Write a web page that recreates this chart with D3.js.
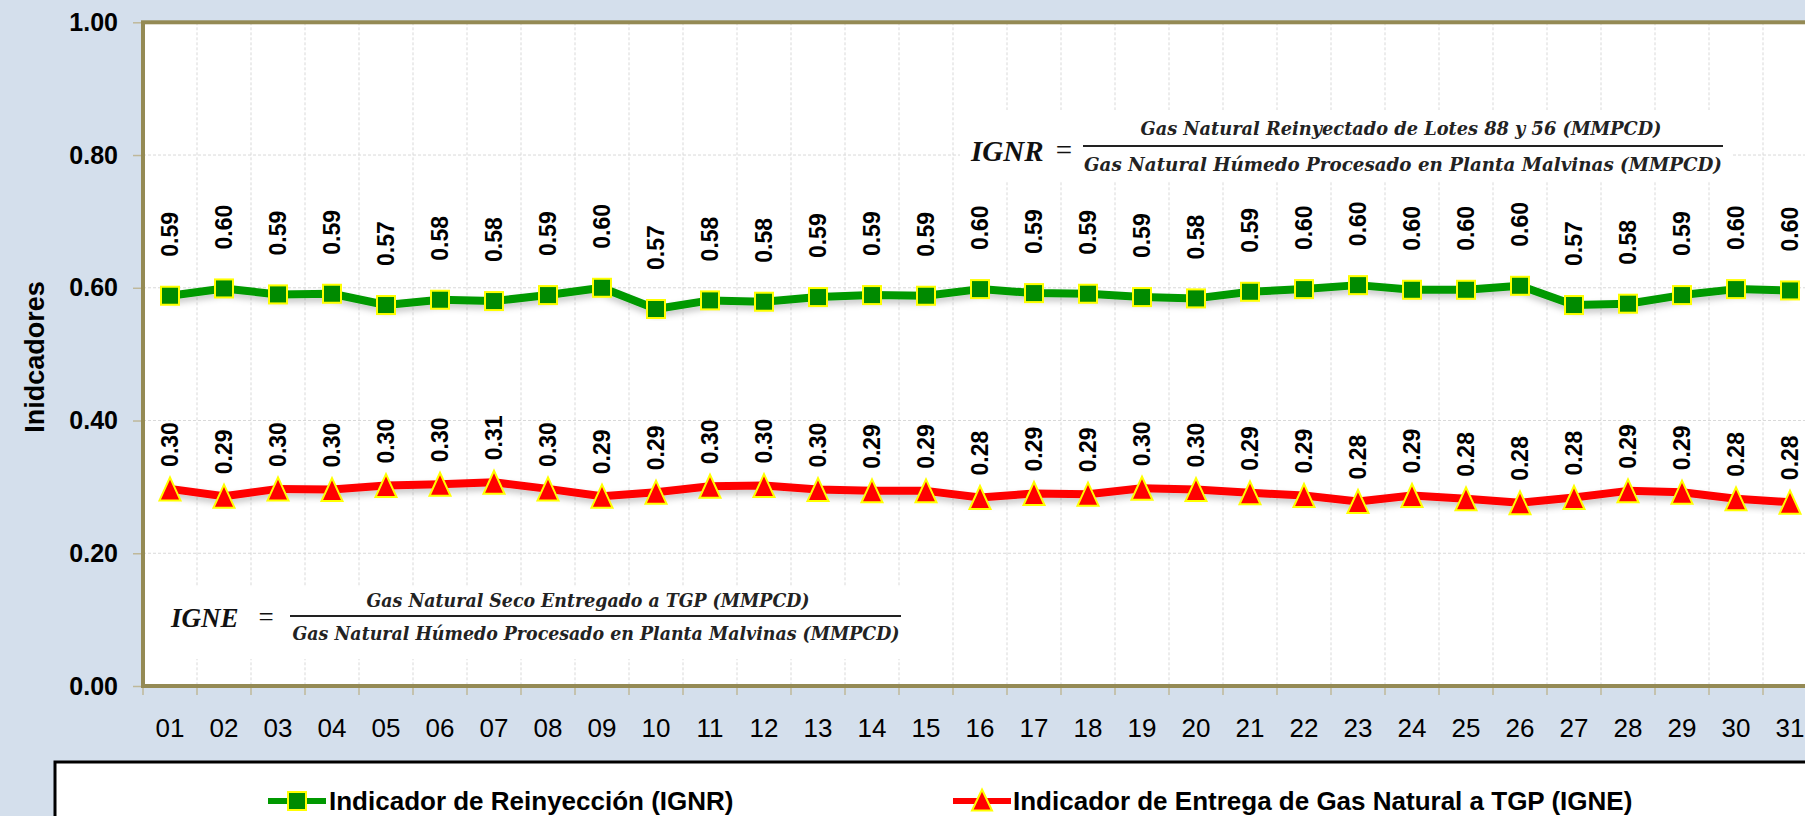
<!DOCTYPE html>
<html><head><meta charset="utf-8">
<script src="https://cdn.jsdelivr.net/npm/d3@7"></script>
<style>
html,body{margin:0;padding:0;background:#d4dfec;}
svg{display:block;}
</style></head>
<body>
<svg id="chart" width="1805" height="816"></svg>
<script>
const days = ["01","02","03","04","05","06","07","08","09","10","11","12","13","14","15","16","17","18","19","20","21","22","23","24","25","26","27","28","29","30","31"];
const ignr = [0.588,0.599,0.590,0.591,0.574,0.582,0.580,0.589,0.600,0.568,0.581,0.579,0.586,0.589,0.588,0.598,0.592,0.591,0.586,0.584,0.594,0.598,0.604,0.597,0.597,0.603,0.574,0.576,0.589,0.598,0.596];
const igne = [0.297,0.286,0.297,0.296,0.302,0.304,0.307,0.297,0.286,0.292,0.301,0.302,0.296,0.294,0.294,0.284,0.290,0.289,0.298,0.296,0.291,0.287,0.278,0.287,0.282,0.276,0.284,0.294,0.292,0.282,0.277];
const yTicks = [0,0.2,0.4,0.6,0.8,1.0];
const seriesNames = ["Indicador de Reinyección (IGNR)","Indicador de Entrega de Gas Natural a TGP (IGNE)"];
const yTitle = "Inidcadores";
const ignrNum = "Gas Natural Reinyectado de Lotes 88 y 56 (MMPCD)";
const ignrDen = "Gas Natural Húmedo Procesado en Planta Malvinas (MMPCD)";
const igneNum = "Gas Natural Seco Entregado a TGP (MMPCD)";
const igneDen = "Gas Natural Húmedo Procesado en Planta Malvinas (MMPCD)";

(function () {
const svg = d3.select("#chart");
const SANS = "'Liberation Sans', Arial, sans-serif";
const SERIF = "'DejaVu Serif', 'Liberation Serif', serif";
const SERIF2 = "'Liberation Serif', 'DejaVu Serif', serif";
const GREEN_LINE = "#009900", GREEN_FILL = "#008a00", RED = "#ff0000", YEL = "#ffff00";
const OLIVE = "#948a54";

const pLeft = 143, step = 54, pTop = 22.3, pBottom = 686;
const x = d3.scaleBand().domain(days).range([pLeft, pLeft + step * days.length]).padding(0);
const y = d3.scaleLinear().domain([0, 1]).range([pBottom, pTop]);
const cx = d => x(d) + x.bandwidth() / 2;

svg.append("rect").attr("width", 1805).attr("height", 816).attr("fill", "#d4dfec");

const defs = svg.append("defs");
const f = defs.append("filter").attr("id", "sh").attr("x", "-5%").attr("y", "-50%").attr("width", "110%").attr("height", "200%");
f.append("feDropShadow").attr("dx", 0).attr("dy", 4).attr("stdDeviation", 3).attr("flood-color", "#000").attr("flood-opacity", 0.22);

// plot area
svg.append("rect").attr("x", pLeft).attr("y", pTop).attr("width", step * days.length).attr("height", pBottom - pTop).attr("fill", "#fff");

// grid
const g = svg.append("g");
g.selectAll("line.h").data(yTicks.slice(1, -1)).join("line")
  .attr("x1", pLeft).attr("x2", pLeft + step * days.length)
  .attr("y1", d => y(d)).attr("y2", d => y(d))
  .attr("stroke", "#d9d9d9").attr("stroke-width", 1).attr("stroke-dasharray", "3,2");
g.selectAll("line.v").data(days.slice(1)).join("line")
  .attr("x1", d => x(d)).attr("x2", d => x(d))
  .attr("y1", pTop).attr("y2", pBottom)
  .attr("stroke", "#d9d9d9").attr("stroke-width", 1).attr("stroke-dasharray", "3,2");

// formula boxes (white pictures over grid)
function formula(o) {
  const fg = svg.append("g");
  fg.append("rect").attr("x", o.box[0]).attr("y", o.box[1]).attr("width", o.box[2]).attr("height", o.box[3]).attr("fill", "#fff");
  fg.append("text").attr("x", o.lx).attr("y", o.base).attr("font-family", SERIF2).attr("font-style", "italic")
    .attr("font-weight", "bold").attr("font-size", o.fsMain).attr("fill", "#111").text(o.lbl);
  fg.append("text").attr("x", o.eqx).attr("y", o.base - 1).attr("text-anchor", "middle").attr("font-family", SERIF2)
    .attr("font-size", o.fsMain).attr("fill", "#111").text("=");
  fg.append("line").attr("x1", o.l1).attr("x2", o.l2).attr("y1", o.ly).attr("y2", o.ly).attr("stroke", "#222").attr("stroke-width", 1.8);
  fg.append("text").attr("x", o.nc).attr("y", o.nb).attr("text-anchor", "middle").attr("font-family", SERIF)
    .attr("font-style", "italic").attr("font-weight", "bold").attr("font-size", o.fsTxt).attr("fill", "#222")
    .attr("textLength", o.nl).attr("lengthAdjust", "spacingAndGlyphs").text(o.num);
  fg.append("text").attr("x", o.dc).attr("y", o.db).attr("text-anchor", "middle").attr("font-family", SERIF)
    .attr("font-style", "italic").attr("font-weight", "bold").attr("font-size", o.fsTxt).attr("fill", "#222")
    .attr("textLength", o.dl).attr("lengthAdjust", "spacingAndGlyphs").text(o.den);
}
formula({lbl: "IGNR", lx: 971, eqx: 1064, base: 161, l1: 1083, l2: 1723, ly: 146,
  num: ignrNum, nc: 1401, nb: 135, nl: 521, den: ignrDen, dc: 1403, db: 171, dl: 638,
  box: [960, 110, 772, 72], fsMain: 29, fsTxt: 19});
formula({lbl: "IGNE", lx: 171, eqx: 266, base: 627, l1: 290, l2: 901, ly: 616,
  num: igneNum, nc: 588, nb: 607, nl: 443, den: igneDen, dc: 596, db: 640, dl: 607,
  box: [160, 587, 752, 72], fsMain: 27, fsTxt: 18});

// plot border
svg.append("rect").attr("x", pLeft).attr("y", pTop).attr("width", step * days.length).attr("height", pBottom - pTop)
  .attr("fill", "none").attr("stroke", OLIVE).attr("stroke-width", 4);

// y axis
const yAxis = d3.axisLeft(y).tickValues(yTicks).tickFormat(d3.format(".2f")).tickSize(8).tickPadding(15);
const ya = svg.append("g").attr("transform", `translate(${pLeft - 2},0)`).call(yAxis);
ya.select(".domain").remove();
ya.selectAll(".tick line").attr("stroke", "#bfb89a").attr("stroke-width", 1.5);
ya.selectAll(".tick text").attr("font-family", SANS).attr("font-weight", "bold").attr("font-size", 25).attr("fill", "#000");

// x axis
const xAxis = d3.axisBottom(x).tickSize(0).tickPadding(33);
const xa = svg.append("g").attr("transform", `translate(0,${pBottom})`).call(xAxis);
xa.select(".domain").remove();
xa.selectAll(".tick text").attr("font-family", SANS).attr("font-size", 26).attr("fill", "#000");
svg.append("g").selectAll("line").data(days).join("line")
  .attr("x1", d => x(d)).attr("x2", d => x(d)).attr("y1", pBottom + 2).attr("y2", pBottom + 9)
  .attr("stroke", "#bfb89a").attr("stroke-width", 1.5);

// y title
svg.append("text").attr("transform", "translate(44,357) rotate(-90)").attr("text-anchor", "middle")
  .attr("font-family", SANS).attr("font-weight", "bold").attr("font-size", 27).attr("fill", "#000").text(yTitle);

// lines
const line = d3.line().x((d, i) => cx(days[i])).y(d => y(d));
svg.append("path").datum(ignr).attr("d", line).attr("fill", "none").attr("stroke", GREEN_LINE)
  .attr("stroke-width", 8).attr("stroke-linejoin", "round").attr("filter", "url(#sh)");
svg.append("path").datum(igne).attr("d", line).attr("fill", "none").attr("stroke", RED)
  .attr("stroke-width", 8).attr("stroke-linejoin", "round").attr("filter", "url(#sh)");

// markers
const sq = 18;
svg.append("g").selectAll("rect").data(ignr).join("rect")
  .attr("x", (d, i) => cx(days[i]) - sq / 2).attr("y", d => y(d) - sq / 2)
  .attr("width", sq).attr("height", sq).attr("fill", GREEN_FILL).attr("stroke", YEL).attr("stroke-width", 2);
const tri = (w, h) => `M0,${-h / 2}L${w / 2},${h / 2}L${-w / 2},${h / 2}Z`;
svg.append("g").selectAll("path").data(igne).join("path")
  .attr("transform", (d, i) => `translate(${cx(days[i])},${y(d)})`)
  .attr("d", tri(21, 23)).attr("fill", RED).attr("stroke", YEL).attr("stroke-width", 2).attr("stroke-linejoin", "miter");

// data labels
const fmt = d3.format(".2f");
function labels(vals, off) {
  svg.append("g").selectAll("text").data(vals).join("text")
    .attr("transform", (d, i) => `translate(${cx(days[i])},${y(d) - off}) rotate(-90)`)
    .attr("dy", "0.36em").attr("text-anchor", "start")
    .attr("font-family", SANS).attr("font-weight", "bold").attr("font-size", 23).attr("fill", "#000")
    .text(d => fmt(d));
}
labels(ignr, 39);
labels(igne, 22);

// legend
svg.append("rect").attr("x", 55).attr("y", 762).attr("width", 1800).attr("height", 100)
  .attr("fill", "#fff").attr("stroke", "#000").attr("stroke-width", 3);
const lg = [
  {mx: 297, tx: 329, color: GREEN_LINE, name: seriesNames[0], kind: "sq"},
  {mx: 982, tx: 1013, color: RED, name: seriesNames[1], kind: "tri"}
];
lg.forEach(it => {
  svg.append("line").attr("x1", it.mx - 29).attr("x2", it.mx + 29).attr("y1", 801).attr("y2", 801)
    .attr("stroke", it.color).attr("stroke-width", 6);
  if (it.kind === "sq") {
    svg.append("rect").attr("x", it.mx - 9).attr("y", 792).attr("width", 18).attr("height", 18)
      .attr("fill", GREEN_FILL).attr("stroke", YEL).attr("stroke-width", 2);
  } else {
    svg.append("path").attr("transform", `translate(${it.mx},800)`).attr("d", tri(20, 21))
      .attr("fill", RED).attr("stroke", YEL).attr("stroke-width", 2);
  }
  svg.append("text").attr("x", it.tx).attr("y", 801).attr("dy", "0.35em").attr("font-family", SANS)
    .attr("font-weight", "bold").attr("font-size", 26).attr("fill", "#000").text(it.name);
});
})();
</script>
</body></html>
